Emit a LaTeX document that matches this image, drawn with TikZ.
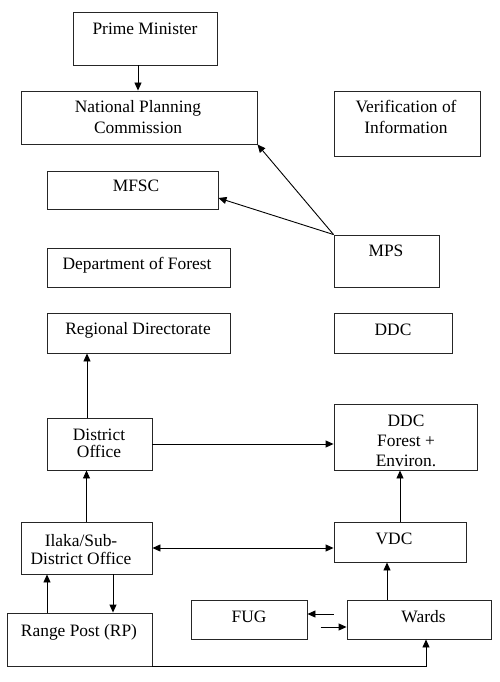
\documentclass[tikz,border=0pt]{standalone}
\usepackage{fontspec}
\setmainfont{Liberation Serif}
\usetikzlibrary{arrows.meta}
\begin{document}
\begin{tikzpicture}[x=1pt,y=-1pt,
  box/.style={draw=black!85, line width=0.9pt, inner sep=0pt, minimum width=#1},
  txt/.style={anchor=base, inner sep=0pt, font=\fontsize{17.4}{21}\selectfont},
  mltxt/.style={anchor=north, inner sep=0pt, align=center, font=\fontsize{17.4}{#1}\selectfont},
  conn/.style={line width=0.9pt, -{Triangle[length=8pt,width=7pt]}},
  biconn/.style={line width=0.9pt, {Triangle[length=8pt,width=7pt]}-{Triangle[length=8pt,width=7pt]}},
  plain/.style={line width=0.9pt}]
\useasboundingbox (0,0) rectangle (500,682);
% boxes
\node[box=144pt, minimum height=53pt] (pm) at (145,38.5) {};
\node[box=236pt, minimum height=53pt] (npc) at (139,117.5) {};
\node[box=146pt, minimum height=65pt] (ver) at (407,123.5) {};
\node[box=171pt, minimum height=38pt] (mfsc) at (132.5,190) {};
\node[box=105pt, minimum height=52pt] (mps) at (386.5,261) {};
\node[box=183pt, minimum height=39pt] (dof) at (138.5,267.5) {};
\node[box=183pt, minimum height=40pt] (rd) at (138.5,333) {};
\node[box=118pt, minimum height=40pt] (ddc) at (393,333) {};
\node[box=105pt, minimum height=52pt] (do) at (99.5,444) {};
\node[box=143pt, minimum height=66pt] (ddcf) at (405.5,437) {};
\node[box=131pt, minimum height=52pt] (ilaka) at (86.5,548) {};
\node[box=132pt, minimum height=40pt] (vdc) at (400,542) {};
\node[box=145pt, minimum height=53pt] (rp) at (79.5,639.5) {};
\node[box=116pt, minimum height=39pt] (fug) at (249,619.5) {};
\node[box=144pt, minimum height=39pt] (wards) at (419,619.5) {};
% texts
\node[txt] (pmt) at (145,35) {Prime Minister};
\node[mltxt=21] (npct) at (138,100) {National Planning\\Commission};
\node[mltxt=21] (vert) at (406,100) {Verification of\\Information};
\node[txt] (mfsct) at (136,191.7) {MFSC};
\node[txt] (mpst) at (386,256) {MPS};
\node[txt] (doft) at (137,269.3) {Department of Forest};
\node[txt] (rdt) at (138,334.3) {Regional Directorate};
\node[txt] (ddct) at (393,335) {DDC};
\begin{scope}
\clip (334,404) rectangle (477,469);
\node[mltxt=19.8] (ddcft) at (406,415) {DDC\\Forest +\\Environ.};
\end{scope}
\node[mltxt=17.7] (dot) at (99,428.3) {District\\Office};
\node[mltxt=17.7] (ilakat) at (81,534.3) {Ilaka/Sub-\\District Office};
\node[txt] (vdct) at (394,544.3) {VDC};
\node[txt] (rpt) at (79,636) {Range Post (RP)};
\node[txt] (fugt) at (249,622.3) {FUG};
\node[txt] (wardst) at (423.5,622.3) {Wards};
% connectors
\draw[conn] ([xshift=-7pt]pm.south) -- ([xshift=-7pt]pm.south |- npc.north);
\draw[conn] (mps.north west) -- (npc.south east);
\draw[conn] (mps.north west) -- ([yshift=-8pt]mfsc.east);
\draw[conn] ([xshift=-12.5pt]do.north) -- ([xshift=-12.5pt]do.north |- rd.south);
\draw[conn] (do.east) -- (do.east -| ddcf.west);
\draw[conn] (ilaka.north) -- (ilaka.north |- do.south);
\draw[conn] (vdc.north) -- (vdc.north |- ddcf.south);
\draw[biconn] (ilaka.east) -- (ilaka.east -| vdc.west);
\draw[conn] ([xshift=-32.5pt]rp.north) -- ([xshift=-32.5pt]rp.north |- ilaka.south);
\draw[conn] ([xshift=26.5pt]ilaka.south) -- ([xshift=26.5pt]ilaka.south |- rp.north);
\draw[conn] ([xshift=-32pt]wards.north) -- ([xshift=-32pt]wards.north |- vdc.south);
\draw[conn] ([xshift=-13pt,yshift=5.5pt]wards.west) -- ([yshift=5.5pt]wards.west -| fug.east);
\draw[conn] ([xshift=-26pt,yshift=-7.5pt]wards.west) -- ([yshift=-7.5pt]wards.west);
\draw[conn] (rp.south east) -| ([xshift=7pt]wards.south);
\end{tikzpicture}
\end{document}
